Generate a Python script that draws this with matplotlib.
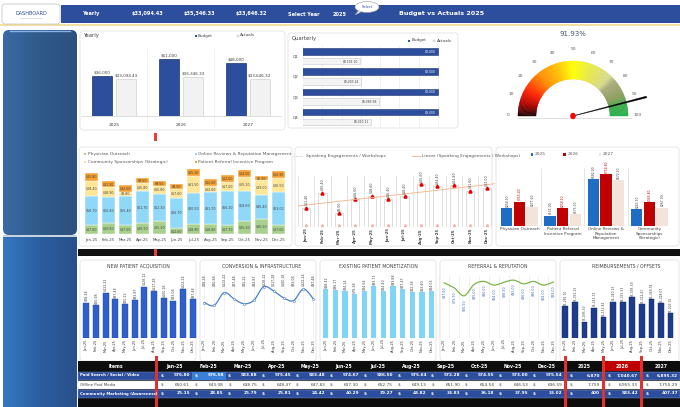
import matplotlib
matplotlib.use('Agg')
import matplotlib.pyplot as plt
import numpy as np
from matplotlib.patches import Rectangle, FancyBboxPatch, Polygon, Ellipse
from matplotlib.colors import LinearSegmentedColormap

W, H = 680, 407

# ---------------- données ----------------
years = ['2025', '2026', '2027']
yearly_budget = [36000, 51000, 48000]
yearly_actuals = [33094.43, 35346.33, 33646.32]

quarters = ['Q1', 'Q2', 'Q3', 'Q4']
quarter_budget = [9000, 9000, 9000, 9000]
quarter_actuals = [8191.10, 8203.24, 8389.98, 8310.11]

gauge_pct = 91.93

months = ['Jan-25', 'Feb-25', 'Mar-25', 'Apr-25', 'May-25', 'Jun-25',
          'Jul-25', 'Aug-25', 'Sep-25', 'Oct-25', 'Nov-25', 'Dec-25']

physician = [17.6, 20.8, 17.5, 20.9, 25.3, 12.6, 18.9, 18.8, 17.7, 25.2, 30.2, 17.6]
online_reviews = [56.7, 50.4, 55.4, 61.7, 52.3, 56.7, 60.5, 61.7, 66.2, 58.6, 45.4, 63.0]
sponsorships = [28.4, 18.9, 8.8, 15.8, 15.8, 17.6, 31.5, 12.6, 17.0, 25.2, 29.0, 26.5]
referral_prog = [15.8, 11.3, 12.6, 9.5, 9.5, 9.5, 15.1, 12.6, 12.6, 14.5, 6.3, 13.9]

speaking = [11.4, 20.4, 8.0, 16.6, 18.6, 16.4, 18.4, 25.6, 24.4, 24.8, 21.6, 23.0]

channels = ['Physician Outreach', 'Patient Referral\nIncentive Program',
            'Online Reviews &\nReputation\nManagement', 'Community\nSponsorships\n(Strategic)']
channel_2025 = [258.10, 151.00, 682.00, 243.50]
channel_2026 = [355.40, 258.10, 754.80, 345.80]
channel_2027 = [277.60, 175.30, 672.10, 267.90]

new_patient = [88.28, 80.98, 113.22, 97.48, 85.22, 93.87, 128.12, 117.28, 100.18, 93.08, 122.24, 97.48]
conversion = [88.28, 80.98, 113.22, 97.48, 85.22, 93.87, 128.12, 117.28, 100.18, 93.08, 122.24, 97.48]
existing_patient = [88.42, 86.17, 84.14, 78.38, 84.64, 93.71, 84.40, 93.88, 87.47, 82.38, 82.40, 84.06]
referral_rep = [87.6, 79.7, 66.9, 85.0, 90.0, 84.0, 88.5, 92.0, 86.0, 90.0, 84.0, 89.0]
reimbursements = [1285.10, 1331.13, 1095.53, 1265.73, 1151.84, 1340.13,
                  1335.53, 1395.59, 1312.41, 1369.74, 1318.07, 1203.15]

table_items = ['Paid Search / Social / Video', 'Offline Paid Media', 'Community Marketing (Awareness)']
paid_search = [576.80, 576.58, 583.88, 575.45, 583.48, 574.67, 586.50, 575.64, 572.28, 574.55, 573.00, 575.54]
offline_media = [650.61, 643.08, 638.75, 648.47, 647.83, 637.30, 652.75, 649.13, 651.90, 654.54, 646.53, 636.59]
community_mkt = [25.15, 28.85, 25.79, 25.81, 24.42, 40.29, 39.27, 43.82, 33.83, 36.18, 37.95, 33.02]
paid_search_years = [6870, 7040.67, 6895.32]
offline_media_years = [7759, 6955.33, 7755.29]
community_mkt_years = [400, 583.42, 407.37]

# ---------------- couleurs ----------------
NAVY = '#2d4e9c'
GRIS_TXT = '#404040'
GRIS_LIGNE = '#dcdcdc'
VERT = '#a9d18e'
BLEU_CIEL = '#8fd8f8'
JAUNE = '#ffe699'
ORANGE = '#f5a030'
BLEU_2025 = '#1f6cc4'
ROUGE_2026 = '#c00000'
BEIGE_2027 = '#f2e4da'

fig = plt.figure(figsize=(W / 100, H / 100), dpi=100)
fig.patch.set_facecolor('white')

bg = fig.add_axes([0, 0, 1, 1])
bg.axis('off')
bg.set_zorder(0)


def box(x0, y0, x1, y1, fc, ec='none', lw=0.5, z=1):
    bg.add_patch(Rectangle((x0, y0), x1 - x0, y1 - y0, facecolor=fc, edgecolor=ec, linewidth=lw, zorder=z))


def panel(x0, y0, x1, y1):
    bg.add_patch(FancyBboxPatch((x0, y0), x1 - x0, y1 - y0, boxstyle='round,pad=0,rounding_size=3',
                                fc='white', ec=GRIS_LIGNE, lw=0.5, zorder=1))


def txt(x, y, s, size=3.5, color=GRIS_TXT, ha='center', va='center', **kw):
    bg.text(x, y, s, fontsize=size, color=color, ha=ha, va=va, zorder=5, **kw)


def sub_axes(x0, y0, x1, y1):
    ax = fig.add_axes([x0 / W, 1 - y1 / H, (x1 - x0) / W, (y1 - y0) / H])
    ax.set_facecolor('none')
    for s in ax.spines.values():
        s.set_visible(False)
    ax.set_zorder(2)
    ax.tick_params(length=0, labelsize=3, colors=GRIS_TXT, pad=1)
    ax.set_yticks([])
    return ax


def smooth(x, y, k=12):
    # courbe lissée type Excel (Catmull-Rom) passant par les points
    x = np.asarray(x, float)
    y = np.asarray(y, float)
    px = np.r_[x[0], x, x[-1]]
    py = np.r_[y[0], y, y[-1]]
    t = np.linspace(0, 1, k, endpoint=False)[:, None]
    xs, ys = [], []
    for i in range(1, len(px) - 2):
        for arr, out in ((px, xs), (py, ys)):
            p0, p1, p2, p3 = arr[i - 1], arr[i], arr[i + 1], arr[i + 2]
            seg = 0.5 * ((2 * p1) + (-p0 + p2) * t + (2 * p0 - 5 * p1 + 4 * p2 - p3) * t ** 2
                         + (-p0 + 3 * p1 - 3 * p2 + p3) * t ** 3)
            out.extend(seg.ravel())
    xs.append(x[-1])
    ys.append(y[-1])
    return np.array(xs), np.array(ys)


def money(v):
    return f'${v:,.2f}'


# =========================================================
# Bandeau du haut + barre latérale
# =========================================================
box(61, 5, 680, 23, NAVY)
box(0, 24, 680, 26, '#f3dfa2')
bg.add_patch(FancyBboxPatch((2, 4), 58, 20, boxstyle='round,pad=0,rounding_size=3',
                            fc='white', ec='#bfbfbf', lw=0.5, zorder=2))
txt(31, 13.5, 'DASHBOARD', 3.6, NAVY)
bg.plot([20, 42], [17.5, 17.5], color='#c8c8c8', lw=0.4, zorder=3)

top_items = [(91, 'Yearly')] + [(x, money(v)) for x, v in zip([148, 199, 251], yearly_actuals)] + \
            [(304, 'Select Year'), (340, '2025')]
for x, s in top_items:
    txt(x, 14, s, 3.6, 'white', fontweight='bold')
txt(442, 14, 'Budget vs Actuals 2025', 4.6, 'white', fontweight='bold')
bg.add_patch(Polygon([[360, 9], [355, 15], [365, 10]], fc='white', ec='#9a9a9a', lw=0.3, zorder=3))
bg.add_patch(Ellipse((367, 7), 24, 11, fc='white', ec='#9a9a9a', lw=0.4, zorder=3))
txt(367, 7, 'Select', 2.6, NAVY)

side_clip = FancyBboxPatch((3, 30), 74, 205, boxstyle='round,pad=0,rounding_size=6',
                           fc='none', ec='none', transform=bg.transData)
bg.add_patch(side_clip)
grad_top = LinearSegmentedColormap.from_list('s1', ['#3a6aa4', '#2f5a8a', '#2c5180'])
grad_bot = LinearSegmentedColormap.from_list('s2', ['#3578c0', '#2b5ea0', '#28508a'])
g = np.linspace(0, 1, 64)[None, :].repeat(4, 0)
im = bg.imshow(g, cmap=grad_top, extent=(3, 77, 235, 30), aspect='auto', zorder=1)
im.set_clip_path(side_clip)
bg.imshow(g, cmap=grad_bot, extent=(3, 77, 407, 237), aspect='auto', zorder=1)
box(3, 234.5, 77, 237, '#c9d3e0')
bg.plot([10, 70], [31, 31], color='#8ab4e8', lw=1.0, zorder=2)

# bandes de séparation
box(154, 133, 157, 141, '#e04040', z=2)
box(78, 249, 680, 256, '#111111')
box(154, 249, 157, 256, '#e04040', z=2)

# =========================================================
# Yearly
# =========================================================
panel(80, 31, 285, 130)
txt(84, 36, 'Yearly', 3.8, ha='left')
box(194.5, 34.5, 196.5, 36.5, NAVY, z=3)
txt(198, 35.5, 'Budget', 3, ha='left')
box(236.5, 34.5, 238.5, 36.5, '#eeeeee', '#bdbdbd', 0.3, z=3)
txt(240, 35.5, 'Actuals', 3, ha='left')

ax = sub_axes(81, 45, 281, 116)
xi = np.arange(len(years))
ax.bar(xi - 0.18, yearly_budget, 0.3, color=NAVY, edgecolor='#1c3370', lw=0.5)
ax.bar(xi + 0.18, yearly_actuals, 0.3, color='#f2f2f2', edgecolor='#d0d0d0', lw=0.5)
for i in xi:
    ax.text(i - 0.18, yearly_budget[i] + 1500, f'${yearly_budget[i]:,.0f}', ha='center', va='bottom', fontsize=3, color=GRIS_TXT)
    ax.text(i + 0.18, yearly_actuals[i] + 1500, money(yearly_actuals[i]), ha='center', va='bottom', fontsize=3, color=GRIS_TXT)
ax.set_xlim(-0.5, 2.5)
ax.set_ylim(0, 64000)
ax.set_xticks([])
for x in (147, 214):
    bg.plot([x, x], [48, 128], color='#ebebeb', lw=0.5, zorder=2)
bg.plot([81, 281], [116.2, 116.2], color='#d0d0d0', lw=0.5, zorder=2)
for i, y in enumerate(years):
    txt(114 + 67 * i, 124.5, y, 3.2)

# =========================================================
# Quarterly
# =========================================================
panel(288, 33, 458, 128)
txt(292, 38.5, 'Quarterly', 3.8, ha='left')
box(408, 39.5, 410, 41.5, NAVY, z=3)
txt(411.5, 40.5, 'Budget', 3, ha='left')
box(433, 39.5, 435, 41.5, '#eeeeee', '#bdbdbd', 0.3, z=3)
txt(436.5, 40.5, 'Actuals', 3, ha='left')

ax = sub_axes(302.9, 46, 457.3, 127)
qi = np.arange(len(quarters))
ax.barh(qi - 0.23, quarter_budget, 0.32, color=NAVY, edgecolor='#1c3370', lw=0.4)
ax.barh(qi + 0.25, quarter_actuals, 0.32, color='#f4f4f4', edgecolor='#c8c8c8', lw=0.4)
for i in qi:
    ax.text(quarter_budget[i] - 20, i - 0.23, f'${quarter_budget[i]:,.0f}', ha='right', va='center', fontsize=2.2, color='white')
    ax.text(quarter_actuals[i] - 20, i + 0.25, money(quarter_actuals[i]), ha='right', va='center', fontsize=2.2, color=GRIS_TXT)
ax.set_xlim(7600, 9200)
ax.set_ylim(3.5, -0.5)
ax.set_xticks(np.arange(7600, 9201, 200))
ax.set_xticklabels([])
ax.grid(axis='x', color='#ececec', lw=0.5)
ax.set_axisbelow(True)
for i, q in enumerate(quarters):
    txt(295.5, 127 - 81 * (3.5 - i) / 4 + 0.5, q, 3)

# =========================================================
# Jauge
# =========================================================
cx, cy, r_out, r_in = 573, 116, 55, 37
gauge_cmap = LinearSegmentedColormap.from_list('jauge', [
    (0.0, '#150000'), (0.08, '#b00000'), (0.16, '#ff2000'), (0.28, '#ff8a00'),
    (0.40, '#ffc000'), (0.50, '#ffff00'), (0.62, '#e8e84a'), (0.74, '#d6db8c'),
    (0.78, '#a7ab7a'), (0.88, '#8a9c5a'), (0.93, '#3faa48'), (1.0, '#20b04a')])
n = 180
for i in range(n):
    th = np.linspace(np.pi * (1 - i / n), np.pi * (1 - (i + 1) / n), 4)
    xs = np.r_[cx + r_out * np.cos(th), cx + r_in * np.cos(th[::-1])]
    ys = np.r_[cy - r_out * np.sin(th), cy - r_in * np.sin(th[::-1])]
    c = gauge_cmap((i + 0.5) / n)
    bg.add_patch(Polygon(np.c_[xs, ys], closed=True, fc=c, ec=c, lw=0.3, zorder=2))
for v in range(0, 101, 10):
    a = np.pi * (1 - v / 100)
    txt(cx + 65 * np.cos(a), cy - 65 * np.sin(a) - 1.5, str(v), 3.2, '#595959')
bg.plot([cx - r_out, cx + r_out + 3], [cy + 1.5, cy + 1.5], color='#d9d9d9', lw=0.6, zorder=2)
a = np.pi * (1 - gauge_pct / 100)
ux, uy = np.cos(a), -np.sin(a)
nx, ny = -uy, ux
L = 76
bg.add_patch(Polygon([[cx + 0.2 * nx, cy + 0.2 * ny], [cx + L * ux + 0.9 * nx, cy + L * uy + 0.9 * ny],
                      [cx + L * ux - 0.9 * nx, cy + L * uy - 0.9 * ny], [cx - 0.2 * nx, cy - 0.2 * ny]],
                     closed=True, fc='black', ec='black', lw=0.2, zorder=4))
bg.add_patch(Ellipse((cx, cy), 5, 6, fc='#ff0000', ec='#d00000', lw=0.3, zorder=5))
txt(cx, 34.5, f'{gauge_pct:.2f}%', 5, '#44546a')

# =========================================================
# Empilé mensuel
# =========================================================
panel(79, 147, 292, 246)
legend_stack = [(85, 154.3, VERT, 'Physician Outreach'),
                (195.7, 154.3, BLEU_CIEL, 'Online Reviews & Reputation Management'),
                (85, 162.3, JAUNE, 'Community Sponsorships (Strategic)'),
                (195.7, 162.3, ORANGE, 'Patient Referral Incentive Program')]
for x, y, c, s in legend_stack:
    box(x - 1, y - 1, x + 1, y + 1, c, z=3)
    txt(x + 2.5, y, s, 3.2, '#595959', ha='left')

ax = sub_axes(83.2, 166, 286.8, 234.3)
mi = np.arange(len(months))
bottom = np.zeros(len(months))
for serie, col in ((physician, VERT), (online_reviews, BLEU_CIEL), (sponsorships, JAUNE), (referral_prog, ORANGE)):
    ax.bar(mi, serie, 0.78, bottom=bottom, color=col, edgecolor='white', lw=0.3)
    for i in mi:
        ax.text(i, bottom[i] + serie[i] / 2, money(serie[i]), ha='center', va='center', fontsize=2.3, color=GRIS_TXT)
    bottom += np.array(serie)
ax.set_xlim(-0.5, 11.5)
ax.set_ylim(0, 131)
ax.set_xticks(mi)
ax.set_xticklabels(months, fontsize=2.8)
ax.tick_params(axis='x', pad=3)

# =========================================================
# Speaking Engagements / Workshops
# =========================================================
panel(295, 147, 492, 246)
bg.plot([293, 303], [156, 156], color='#d0d0d0', lw=0.6, ls=(0, (2, 1)), zorder=3)
txt(305.5, 156, 'Speaking Engagements / Workshops', 3.2, '#595959', ha='left')
bg.plot([412, 420], [156, 156], color='#f4b183', lw=0.6, zorder=3)
txt(421.5, 156, 'Linear (Speaking Engagements / Workshops)', 3.2, '#595959', ha='left')

ax = sub_axes(297.8, 170, 494.9, 226.7)
ax.vlines(np.arange(-0.5, 12), 0, 31, color='#d9d9d9', lw=0.5)
ax.bar(mi, speaking, 0.5, color='white', edgecolor='#cfcfcf', lw=0.5)
ax.plot(mi, speaking, ls='none', marker='^', ms=2.2, color='#e00000')
ax.plot(mi, [1.2] * 12, ls='none', marker='^', ms=1.5, color='#f6b0b0')
for i in mi:
    ax.text(i, speaking[i] + 1.5, money(speaking[i]), rotation=90, ha='center', va='bottom', fontsize=2.3, color=GRIS_TXT)
coef = np.polyfit(mi, speaking, 1)
ax.plot([-0.5, 11.5], np.polyval(coef, [-0.5, 11.5]), color='#f4b183', lw=0.6)
ax.set_xlim(-0.5, 11.5)
ax.set_ylim(0, 34)
ax.set_xticks(mi)
ax.set_xticklabels(months, rotation=90, fontsize=2.8, fontweight='bold')

# =========================================================
# Canaux par année
# =========================================================
panel(496, 147, 679, 246)
for x, c, s in ((532, BLEU_2025, '2025'), (564.5, ROUGE_2026, '2026'), (600, BEIGE_2027, '2027')):
    box(x - 1.2, 153.1, x + 1.2, 155.5, c, z=3)
    txt(x + 3, 154.3, s, 3.2, '#595959', ha='left')

ax = sub_axes(497.7, 160, 671, 226)
ci = np.arange(len(channels))
ax.vlines([0.5, 1.5, 2.5], 0, 842, color='#d9d9d9', lw=0.5)
for off, vals, col, lc in ((-0.29, channel_2025, BLEU_2025, GRIS_TXT),
                           (0.0, channel_2026, ROUGE_2026, ROUGE_2026),
                           (0.29, channel_2027, BEIGE_2027, GRIS_TXT)):
    ax.bar(ci + off, vals, 0.26, color=col)
    for i in ci:
        ax.text(i + off, vals[i] + 20, money(vals[i]), rotation=90, ha='center', va='bottom', fontsize=2.2, color=lc)
ax.set_xlim(-0.5, 3.5)
ax.set_ylim(0, 964)
ax.set_xticks(ci)
ax.set_xticklabels(channels, fontsize=3, va='top', linespacing=1.1)

# =========================================================
# Ligne du bas : 5 mini graphiques
# =========================================================
bottom_panels = [(80, 196, 138.3, 'NEW PATIENT ACQUISITION'),
                 (200, 316, 261.7, 'CONVERSION & INFRASTRUCTURE'),
                 (320, 436, 378.3, 'EXISTING PATIENT MONETIZATION'),
                 (440, 556, 498, 'REFERRAL & REPUTATION'),
                 (560, 679, 626.7, 'REIMBURSEMENTS / OFFSETS')]
for x0, x1, xt, t in bottom_panels:
    panel(x0, 260, x1, 361)
    txt(xt, 266, t, 3.3, GRIS_TXT)


def mini_axes(x0, x1, ylim):
    ax = sub_axes(x0, 272, x1, 337.7)
    ax.set_xlim(-0.5, 11.5)
    ax.set_ylim(*ylim)
    ax.set_xticks(mi)
    ax.set_xticklabels(months, rotation=90, fontsize=2.6)
    return ax


ax = mini_axes(81.5, 197.7, (0, 165))
ax.bar(mi, new_patient, 0.62, color='#2f5fcc', edgecolor='#1f47a8', lw=0.3)
for i in mi:
    ax.text(i, new_patient[i] + 3, money(new_patient[i]), rotation=90, ha='center', va='bottom', fontsize=2.3, color=GRIS_TXT)

ax = mini_axes(199.3, 318.3, (0, 165))
ax.vlines(mi, 0, 160, color='#e6e6e6', lw=0.4)
sx, sy = smooth(mi, conversion)
ax.plot(sx, sy, color='#4a7fd0', lw=0.9)
ax.plot(mi, conversion, ls='none', marker='o', ms=1.6, mfc='white', mec='#4a7fd0', mew=0.4)
for i in mi:
    ax.text(i, 130, money(conversion[i]), rotation=90, ha='center', va='bottom', fontsize=2.3, color=GRIS_TXT)

ax = mini_axes(321, 436.3, (0, 119))
ax.bar(mi, existing_patient, 0.55, color='#7fd4f7')
for i in mi:
    ax.text(i, existing_patient[i] + 2, money(existing_patient[i]), rotation=90, ha='center', va='bottom', fontsize=2.3, color=GRIS_TXT)

ax = mini_axes(439.3, 558.3, (0, 105))
ax.vlines(np.arange(-0.5, 12), 0, 100, color='#e6e6e6', lw=0.4)
sx, sy = smooth(mi, referral_rep)
ax.plot(sx, sy, color='#7ab648', lw=0.9)
for i in mi:
    ax.text(i, referral_rep[i] - 5, money(referral_rep[i]), rotation=90, ha='center', va='top', fontsize=2.3, color='#3a64b8')

ax = mini_axes(560.5, 675.3, (900, 1700))
ax.bar(mi, reimbursements, 0.6, color='#1f3c8c', edgecolor='#132a66', lw=0.3)
for i in mi:
    ax.text(i, reimbursements[i] + 15, money(reimbursements[i]), rotation=90, ha='center', va='bottom', fontsize=2.2, color=GRIS_TXT)

# =========================================================
# Tableau
# =========================================================
box(78, 361, 680, 407, '#0d0d0d')
rows_y = [(371.5, 379.5, NAVY, 'white'), (380.5, 388.5, 'white', GRIS_TXT), (389.5, 397.5, NAVY, 'white')]
col_w = (564 - 158) / 12
month_x = [158 + col_w * i for i in range(12)]
year_x = [(567, 602), (605, 640), (643, 680)]
box(605, 361, 640, 371, ROUGE_2026, z=2)
txt(116, 366.5, 'Items', 3.3, 'white', fontweight='bold')
for i, m in enumerate(months):
    txt(month_x[i] + col_w / 2, 366.5, m, 3.3, 'white', fontweight='bold')
for (x0, x1), y in zip(year_x, years):
    txt((x0 + x1) / 2, 366.5, y, 3.3, 'white', fontweight='bold')

table_rows = [(paid_search, paid_search_years), (offline_media, offline_media_years),
              (community_mkt, community_mkt_years)]
for r, ((y0, y1, fc, tc), (vals, yvals)) in enumerate(zip(rows_y, table_rows)):
    box(78, y0, 680, y1, fc, ec='#7f9ccf' if fc == NAVY else '#e6e6e6', lw=0.3)
    ym = (y0 + y1) / 2
    wt = 'bold' if fc == NAVY else 'normal'
    txt(79.5, ym, table_items[r], 2.8, tc, ha='left', fontweight=wt)
    for i, v in enumerate(vals):
        x0 = month_x[i]
        if r == 0 and i == 1:
            box(x0, y0, x0 + col_w, y1, '#3a7fd8', z=2)
        txt(x0 + 2.5, ym, '$', 3.1, tc, ha='left', fontweight=wt)
        txt(x0 + col_w - 2, ym, f'{v:,.2f}', 3.1, tc, ha='right', fontweight=wt)
    for (x0, x1), v in zip(year_x, yvals):
        s = f'{v:,.0f}' if float(v).is_integer() else f'{v:,.2f}'
        txt(x0 + 2.5, ym, '$', 3.1, tc, ha='left', fontweight=wt)
        txt(x1 - 2, ym, s, 3.1, tc, ha='right', fontweight=wt)

for x0, x1 in ((155, 158), (564, 567), (602, 605), (640, 643)):
    box(x0, 356, x1, 407, '#e03030', z=3)

bg.set_xlim(0, W)
bg.set_ylim(H, 0)

plt.savefig('out.png', dpi=100, facecolor='white')
plt.close()
